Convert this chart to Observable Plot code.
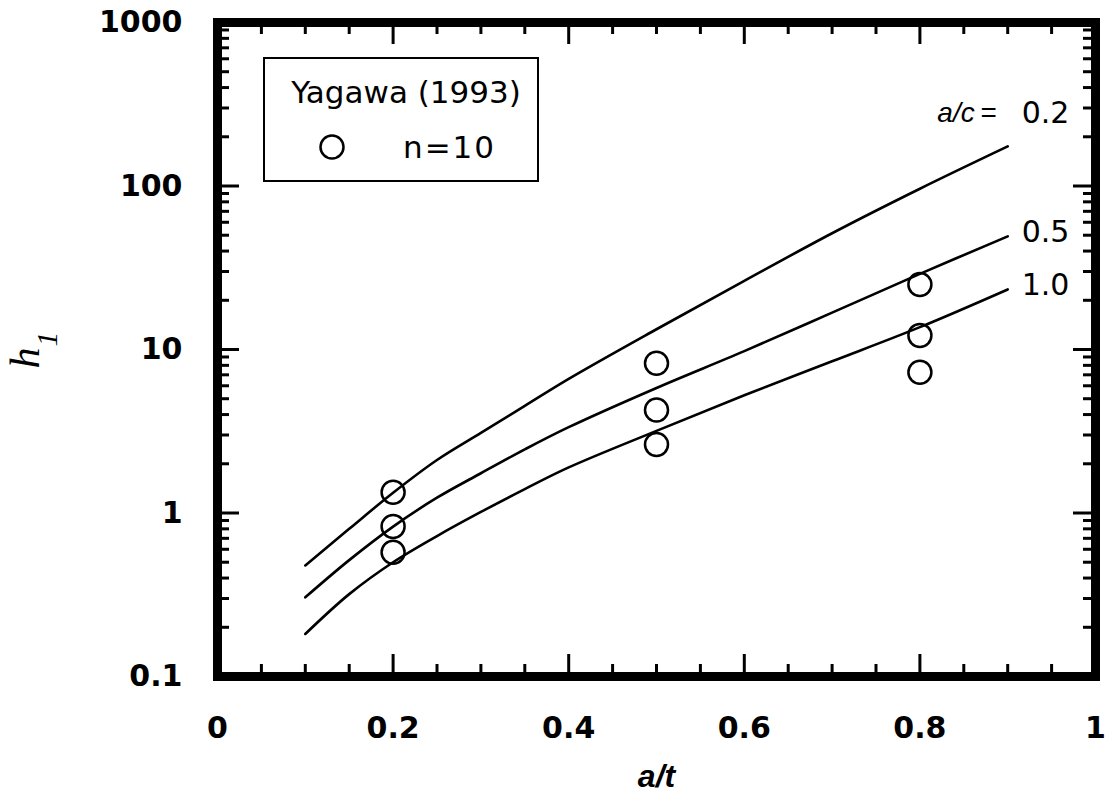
<!DOCTYPE html>
<html>
<head>
<meta charset="utf-8">
<script src="https://cdn.jsdelivr.net/npm/d3@7"></script>
<script src="https://cdn.jsdelivr.net/npm/@observablehq/plot@0.6"></script>
<style>
  body { margin: 0; background: #fff; }
  #wrap { position: relative; width: 1107px; height: 801px; }
  #legend-box { position: absolute; left: 263px; top: 57px; width: 272px; height: 121px; border: 2.5px solid #000; }
  .leg-text { position: absolute; font-family: "DejaVu Sans"; font-size: 31px; line-height: 1; color: #000; white-space: nowrap; }
  #leg-title { left: 406px; top: 92px; transform: translate(-50%, -50%); }
  #leg-n { left: 403px; top: 146.7px; transform: translateY(-50%); letter-spacing: 2px; }
  #leg-sym { position: absolute; left: 318.7px; top: 133.7px; }
</style>
</head>
<body>
<div id="wrap"></div>
<script>
// ---- data ----
const aOverT = [0.1, 0.15, 0.2, 0.25, 0.3, 0.35, 0.4, 0.5, 0.6, 0.7, 0.8, 0.9];
const h1_ac02 = [0.478, 0.80, 1.33, 2.11, 3.09, 4.52, 6.61, 13.3, 26.3, 51.4, 96.2, 174.6];
const h1_ac05 = [0.305, 0.515, 0.826, 1.24, 1.75, 2.45, 3.35, 5.82, 9.77, 16.8, 29.0, 49.2];
const h1_ac10 = [0.182, 0.319, 0.50, 0.723, 1.015, 1.40, 1.90, 3.18, 5.25, 8.47, 13.7, 23.3];
const acLabels = ["0.2", "0.5", "1.0"];

const yagawaX = [0.2, 0.2, 0.2, 0.5, 0.5, 0.5, 0.8, 0.8, 0.8];
const yagawaH = [1.34, 0.826, 0.575, 8.24, 4.27, 2.62, 25.0, 12.2, 7.26];

const xTicks = [0, 0.2, 0.4, 0.6, 0.8, 1];
const xTickLabels = ["0", "0.2", "0.4", "0.6", "0.8", "1"];
const xMinor = [0.05, 0.1, 0.15, 0.25, 0.3, 0.35, 0.45, 0.5, 0.55, 0.65, 0.7, 0.75, 0.85, 0.9, 0.95];
const yTicks = [0.1, 1, 10, 100, 1000];
const yTickLabels = ["0.1", "1", "10", "100", "1000"];
const yMinor = [0.2,0.3,0.4,0.5,0.6,0.7,0.8,0.9, 2,3,4,5,6,7,8,9, 20,30,40,50,60,70,80,90, 200,300,400,500,600,700,800,900];

// ---- build tidy table ----
const seriesVals = [h1_ac02, h1_ac05, h1_ac10];
const rows = [];
seriesVals.forEach((vals, s) => vals.forEach((v, i) => rows.push({ac: acLabels[s], x: aOverT[i], h: v})));
const ends = seriesVals.map((vals, s) => ({ac: acLabels[s], x: aOverT[aOverT.length - 1], h: vals[vals.length - 1]}));
const pts = yagawaX.map((x, i) => ({x, h: yagawaH[i]}));

const W = 1107, H = 801;
const mL = 217, mR = 12, mT = 22, mB = 125;
const innerW = W - mL - mR, innerH = H - mT - mB;
const major = 22, minor = 12;
const xMajorInner = xTicks.slice(1, -1);
const yMajorInner = yTicks.slice(1, -1);

const tickStyle = {stroke: "#000", strokeWidth: 3};
const lblFont = {fontFamily: "DejaVu Sans", fontSize: 30, fontWeight: "normal", fill: "#000"};

const chart = Plot.plot({
  width: W, height: H,
  marginLeft: mL, marginRight: mR, marginTop: mT, marginBottom: mB,
  style: {background: "#fff", color: "#000"},
  x: {domain: [0, 1]},
  y: {type: "log", domain: [0.1, 1000]},
  marks: [
    // ticks on all four sides, pointing inward
    Plot.tickX(xMajorInner, {x: d => d, insetTop: innerH - major, ...tickStyle}),
    Plot.tickX(xMinor, {x: d => d, insetTop: innerH - minor, ...tickStyle}),
    Plot.tickX(xMajorInner, {x: d => d, insetBottom: innerH - major, ...tickStyle}),
    Plot.tickX(xMinor, {x: d => d, insetBottom: innerH - minor, ...tickStyle}),
    Plot.tickY(yMajorInner, {y: d => d, insetRight: innerW - major, ...tickStyle}),
    Plot.tickY(yMinor, {y: d => d, insetRight: innerW - minor, ...tickStyle}),
    Plot.tickY(yMajorInner, {y: d => d, insetLeft: innerW - major, ...tickStyle}),
    Plot.tickY(yMinor, {y: d => d, insetLeft: innerW - minor, ...tickStyle}),
    Plot.axisX({ticks: xTicks, tickSize: 0, tickPadding: 40, label: null,
      tickFormat: d => xTickLabels[xTicks.indexOf(d)],
      fontFamily: "DejaVu Sans", fontSize: 30, fontWeight: "bold"}),
    Plot.axisY({ticks: yTicks, tickSize: 0, tickPadding: 35, label: null,
      tickFormat: d => yTickLabels[yTicks.indexOf(d)],
      fontFamily: "DejaVu Sans", fontSize: 30, fontWeight: "bold"}),
    // curves
    Plot.line(rows, {x: "x", y: "h", z: "ac", curve: "catmull-rom", stroke: "#000", strokeWidth: 2.6}),
    // data points
    Plot.dot(pts, {x: "x", y: "h", r: 11.5, stroke: "#000", strokeWidth: 2.5, fill: "none"}),
    // curve labels
    Plot.text(ends.filter(d => d.ac === "0.2"), {x: "x", y: "h", text: "ac", textAnchor: "start", dx: 14, dy: -33, ...lblFont}),
    Plot.text(ends.filter(d => d.ac !== "0.2"), {x: "x", y: "h", text: "ac", textAnchor: "start", dx: 14, dy: -4, ...lblFont}),
    Plot.text(ends.filter(d => d.ac === "0.2"), {x: "x", y: "h", text: () => "a/c", textAnchor: "end", dx: -33, dy: -33,
      fontFamily: "Liberation Sans", fontStyle: "italic", fontSize: 28, fill: "#000"}),
    Plot.text(ends.filter(d => d.ac === "0.2"), {x: "x", y: "h", text: () => "=", textAnchor: "middle", dx: -19, dy: -33,
      fontFamily: "Liberation Sans", fontSize: 28, fill: "#000"}),
    // axis titles
    Plot.text(["a/t"], {frameAnchor: "bottom", dy: 110, fontFamily: "Liberation Sans", fontStyle: "italic", fontWeight: "bold", fontSize: 32, fill: "#000"}),
    Plot.text(["h"], {frameAnchor: "left", rotate: -90, dx: -192, dy: 19, fontFamily: "Liberation Serif", fontStyle: "italic", fontSize: 42, fill: "#000"}),
    Plot.text(["1"], {frameAnchor: "left", rotate: -90, dx: -170, dy: -3, fontFamily: "Liberation Serif", fontStyle: "italic", fontSize: 30, fill: "#000"}),
    // frame
    Plot.frame({stroke: "#000", strokeWidth: 9})
  ]
});

const wrap = document.getElementById("wrap");
wrap.appendChild(chart);

// legend (HTML overlay)
const box = document.createElement("div"); box.id = "legend-box"; wrap.appendChild(box);
const t1 = document.createElement("div"); t1.className = "leg-text"; t1.id = "leg-title"; t1.textContent = "Yagawa (1993)"; wrap.appendChild(t1);
const t2 = document.createElement("div"); t2.className = "leg-text"; t2.id = "leg-n"; t2.textContent = "n=10"; wrap.appendChild(t2);
const sym = d3.create("svg").attr("id", "leg-sym").attr("width", 26).attr("height", 26);
sym.append("circle").attr("cx", 13).attr("cy", 13).attr("r", 11.5).attr("fill", "none").attr("stroke", "#000").attr("stroke-width", 2.5);
wrap.appendChild(sym.node());
</script>
</body>
</html>
